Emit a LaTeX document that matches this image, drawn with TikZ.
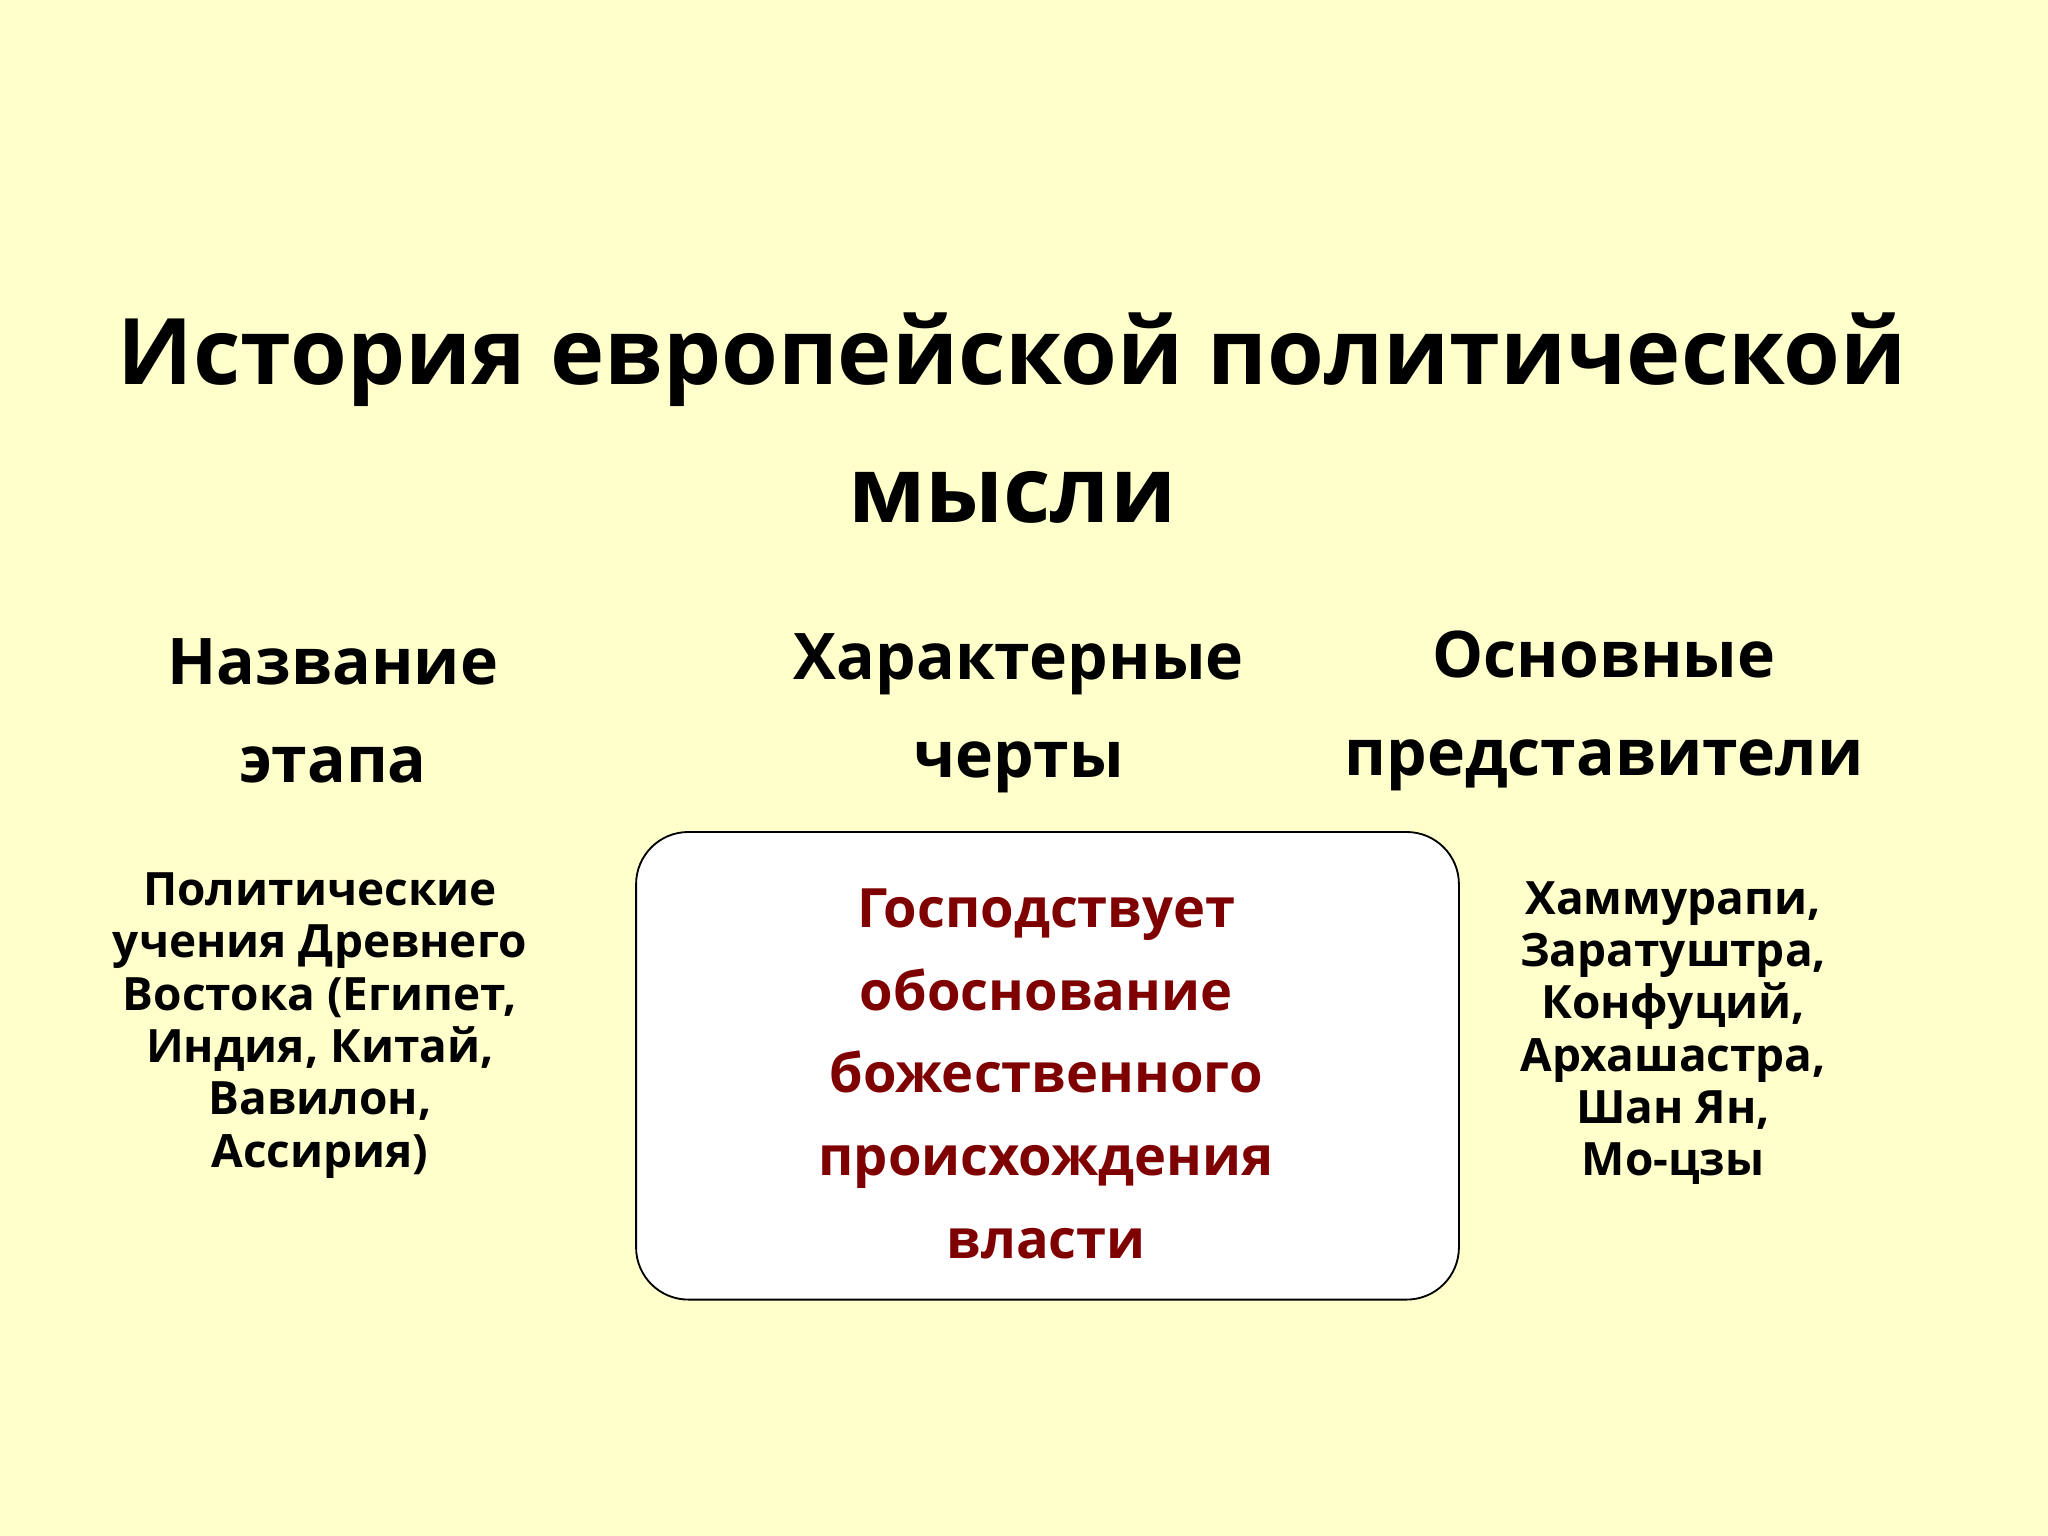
\documentclass[tikz,border=0pt]{standalone}
\usepackage{fontspec}
\setmainfont{Open Sans}
\definecolor{bg}{HTML}{FFFFCC}
\definecolor{dred}{HTML}{7F0000}
\begin{document}
\begin{tikzpicture}[x=0.01cm,y=-0.01cm,
  title/.style={font=\fontsize{20}{30}\selectfont\bfseries,align=center},
  head/.style={font=\fontsize{14}{21.3}\selectfont\bfseries,align=center},
  body/.style={font=\fontsize{10}{11.4}\selectfont\bfseries,align=center},
  red/.style={font=\fontsize{11.8}{18}\selectfont\bfseries,align=center,text=dred}]
\fill[bg] (0,0) rectangle (1568,1176);
\useasboundingbox (0,0) rectangle (1568,1176);
\node[title] (t) at (775,320) {История европейской политической\\мысли};
\node[head] (h1) at (255,544) {Название\\этапа};
\node[head] (h2) at (780,546) {Характерные\\черты};
\node[head] (h3) at (1228,544) {Основные\\представители};
\draw[fill=white,rounded corners=0.4cm] (487,637) rectangle (1117,995);
\node[red] (c) at (801,822) {Господствует\\обоснование\\божественного\\происхождения\\власти};
\node[body] (l) at (245,785) {Политические\\учения Древнего\\Востока (Египет,\\Индия, Китай,\\Вавилон,\\Ассирия)};
\node[body] (r) at (1281,791) {Хаммурапи,\\Заратуштра,\\Конфуций,\\Архашастра,\\Шан Ян,\\Мо-цзы};
\end{tikzpicture}
\end{document}
